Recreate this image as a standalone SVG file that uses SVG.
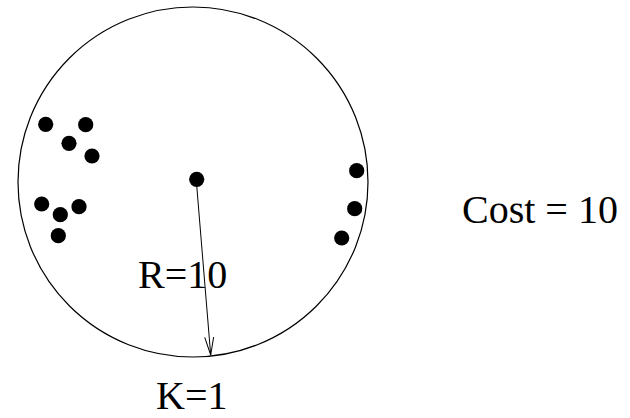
<svg xmlns="http://www.w3.org/2000/svg" width="630" height="418" viewBox="0 0 630 418">
<style>
.dot{fill:#000}
.lbl{font-family:"Liberation Serif","Times New Roman",serif;font-size:40px;fill:#000}
</style>
<defs>
<marker id="arr" markerWidth="20" markerHeight="12" refX="18" refY="5" orient="auto" markerUnits="userSpaceOnUse">
<path d="M0,0.5 L18,5 L0,9.5" fill="none" stroke="#000" stroke-width="1"/>
</marker>
</defs>
<rect width="630" height="418" fill="#fff"/>
<g id="region">
<circle cx="193" cy="182" r="175" fill="none" stroke="#000" stroke-width="1.2"/>
</g>
<g id="points">
<circle class="dot" cx="45.7" cy="124.3" r="7.6"/>
<circle class="dot" cx="85.7" cy="124.7" r="7.6"/>
<circle class="dot" cx="69" cy="143.3" r="7.6"/>
<circle class="dot" cx="92" cy="156" r="7.6"/>
<circle class="dot" cx="41.7" cy="204" r="7.6"/>
<circle class="dot" cx="79" cy="206.7" r="7.6"/>
<circle class="dot" cx="60.3" cy="214.7" r="7.6"/>
<circle class="dot" cx="58.3" cy="235.7" r="7.6"/>
<circle class="dot" cx="356.7" cy="170.7" r="7.6"/>
<circle class="dot" cx="354.7" cy="208.7" r="7.6"/>
<circle class="dot" cx="341.7" cy="238" r="7.6"/>
</g>
<g id="center">
<circle class="dot" cx="196.7" cy="179.3" r="7.6"/>
</g>
<g id="connectors">
<line x1="196.5" y1="183" x2="210.7" y2="355" stroke="#000" stroke-width="1" marker-end="url(#arr)"/>
</g>
<g id="labels">
<text class="lbl" x="138" y="288">R=10</text>
<text class="lbl" x="156" y="409">K=1</text>
<text class="lbl" x="462" y="223">Cost = 10</text>
</g>
</svg>
